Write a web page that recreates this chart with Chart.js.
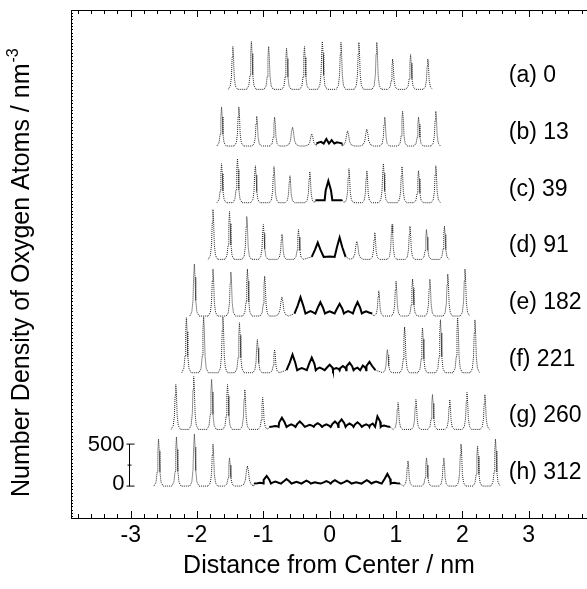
<!DOCTYPE html>
<html>
<head>
<meta charset="utf-8">
<script src="https://cdn.jsdelivr.net/npm/chart.js@4.4.1/dist/chart.umd.min.js"></script>
<style>
  html, body { margin: 0; padding: 0; background: #fff; }
  canvas { display: block; }
</style>
</head>
<body>
<canvas id="densityChart" width="587" height="589"></canvas>
<script>
// run labels, top to bottom
const runLabels = ['(a) 0', '(b) 13', '(c) 39', '(d) 91', '(e) 182', '(f) 221', '(g) 260', '(h) 312'];
const xTickValues = [-3, -2, -1, 0, 1, 2, 3];

// layered (ice-like) peaks: position / nm and height / nm^-3
const icePosA = [-1.46, -1.18, -0.92, -0.65, -0.38, -0.11, 0.17, 0.44, 0.71, 0.95, 1.22, 1.48];
const iceHA   = [510, 570, 510, 490, 510, 570, 560, 560, 560, 360, 415, 360];
const icePosB = [-1.63, -1.37, -1.10, -0.83, -0.56, -0.27, 0.27, 0.56, 0.83, 1.10, 1.34, 1.60];
const iceHB   = [465, 465, 355, 345, 225, 145, 180, 200, 345, 415, 345, 415];
const icePosC = [-1.63, -1.39, -1.12, -0.84, -0.60, -0.30, 0.29, 0.56, 0.81, 1.09, 1.34, 1.60];
const iceHC   = [465, 525, 440, 430, 320, 370, 405, 380, 465, 430, 380, 440];
const icePosD = [-1.76, -1.51, -1.25, -1.00, -0.72, -0.47, 0.41, 0.68, 0.94, 1.21, 1.46, 1.73];
const iceHD   = [595, 570, 510, 415, 300, 355, 215, 320, 415, 395, 355, 395];
const icePosE = [-2.04, -1.76, -1.49, -1.24, -0.98, -0.72, 0.74, 1.00, 1.25, 1.51, 1.78, 2.04];
const iceHE   = [620, 560, 525, 560, 475, 225, 300, 415, 440, 440, 500, 560];
const icePosF = [-2.16, -1.90, -1.61, -1.36, -1.09, -0.83, 0.87, 1.13, 1.40, 1.67, 1.93, 2.19];
const iceHF   = [655, 665, 665, 595, 395, 275, 275, 545, 535, 630, 655, 630];
const icePosG = [-2.32, -2.05, -1.78, -1.54, -1.28, -1.01, 1.03, 1.30, 1.55, 1.81, 2.07, 2.34];
const iceHG   = [535, 630, 595, 535, 475, 380, 320, 355, 415, 355, 440, 415];
const icePosH = [-2.58, -2.31, -2.04, -1.76, -1.51, -1.24, 1.18, 1.46, 1.72, 1.98, 2.23, 2.50];
const iceHH   = [560, 585, 620, 500, 335, 240, 300, 335, 335, 500, 475, 560];

// liquid-like region: bump position / nm and height / nm^-3
const liqPosA = [];
const liqHA   = [];
const liqPosB = [-0.13, -0.05, 0.03, 0.11];
const liqHB   = [50, 85, 70, 45];
const liqPosC = [-0.13, -0.02, 0.10];
const liqHC   = [30, 260, 30];
const liqPosD = [-0.18, 0.00, 0.15];
const liqHD   = [200, 35, 260];
const liqPosE = [-0.44, -0.29, -0.14, 0.00, 0.15, 0.28, 0.42, 0.55];
const liqHE   = [225, 60, 165, 55, 145, 60, 165, 55];
const liqPosF = [-0.56, -0.42, -0.27, -0.15, 0.00, 0.10, 0.20, 0.30, 0.42, 0.50, 0.60];
const liqHF   = [215, 55, 180, 60, 95, 55, 80, 120, 60, 85, 130];
const liqPosG = [-0.82, -0.72, -0.58, -0.45, -0.30, -0.18, -0.05, 0.08, 0.18, 0.30, 0.42, 0.55, 0.65, 0.72, 0.82];
const liqHG   = [40, 140, 60, 95, 55, 75, 60, 95, 120, 70, 85, 60, 70, 155, 45];
const liqPosH = [-1.05, -0.95, -0.82, -0.65, -0.50, -0.35, -0.22, -0.05, 0.08, 0.26, 0.40, 0.56, 0.70, 0.87, 0.97];
const liqHH   = [40, 120, 55, 85, 50, 65, 45, 60, 70, 65, 45, 70, 55, 145, 40];

const scaleBarValues = [0, 250, 500];

const icePos = [icePosA, icePosB, icePosC, icePosD, icePosE, icePosF, icePosG, icePosH];
const iceH = [iceHA, iceHB, iceHC, iceHD, iceHE, iceHF, iceHG, iceHH];
const liqPos = [liqPosA, liqPosB, liqPosC, liqPosD, liqPosE, liqPosF, liqPosG, liqPosH];
const liqH = [liqHA, liqHB, liqHC, liqHD, liqHE, liqHF, liqHG, liqHH];

const FONT = "'Liberation Sans', Arial, Helvetica, sans-serif";
const OFFSET = 675;       // vertical shift between runs
const LIQ_FLOOR = 30;     // level the liquid trace sits on
const ICE_W = 0.07, ICE_W_LOW = 0.1, LIQ_W = 0.09;
const ICE_SHAPE = [[-1, 0], [-0.55, 0.08], [-0.3, 0.3], [-0.15, 0.75], [0, 1], [0.15, 0.75], [0.3, 0.3], [0.55, 0.08], [1, 0]];
const LIQ_SHAPE = [[-1, 0], [-0.45, 0.5], [0, 1], [0.45, 0.5], [1, 0]];

// turn peak lists into a trace for one run
function buildTrace(k) {
  const base = (runLabels.length - 1 - k) * OFFSET;
  const peaks = [];
  icePos[k].forEach((p, i) => peaks.push({ p: p, h: iceH[k][i], liq: false }));
  liqPos[k].forEach((p, i) => peaks.push({ p: p, h: liqH[k][i], liq: true }));
  peaks.sort((a, b) => a.p - b.p);
  const pts = [];
  peaks.forEach((pk, i) => {
    const w = pk.liq ? LIQ_W : (pk.h < 260 ? ICE_W_LOW : ICE_W);
    const shape = pk.liq ? LIQ_SHAPE : ICE_SHAPE;
    const floor = pk.liq ? LIQ_FLOOR : 0;
    const prev = peaks[i - 1], next = peaks[i + 1];
    const lo = prev ? Math.max(pk.p - w, (prev.p + pk.p) / 2) : pk.p - w;
    const hi = next ? Math.min(pk.p + w, (pk.p + next.p) / 2) : pk.p + w;
    pts.push({ x: lo, y: base + floor, liq: pk.liq });
    shape.forEach(([dx, fy]) => {
      const x = pk.p + dx * w;
      if (x <= lo || x >= hi) return;
      pts.push({ x: x, y: base + floor + fy * (pk.h - floor), liq: pk.liq });
    });
    pts.push({ x: hi, y: base + floor, liq: pk.liq });
  });
  return pts;
}

const datasets = runLabels.map((name, k) => {
  const pts = buildTrace(k);
  const isLiq = ctx => pts[ctx.p0DataIndex].liq && pts[ctx.p1DataIndex].liq;
  return {
    label: name,
    data: pts,
    borderColor: '#000',
    borderWidth: 2,
    borderDash: [],
    pointRadius: 0,
    tension: 0,
    fill: false,
    segment: {
      borderDash: ctx => isLiq(ctx) ? undefined : [1, 1],
      borderWidth: ctx => isLiq(ctx) ? undefined : 1,
      borderColor: ctx => isLiq(ctx) ? undefined : '#222'
    }
  };
});

// extra drawing: inward ticks, run labels, scale bar, y title
const decor = {
  id: 'decor',
  afterDraw(chart) {
    const ctx = chart.ctx;
    const x = chart.scales.x, y = chart.scales.y;
    const area = chart.chartArea;
    ctx.save();
    ctx.strokeStyle = '#000';
    ctx.fillStyle = '#000';
    ctx.lineWidth = 1;

    // inward tick marks on bottom and top
    ctx.beginPath();
    for (let v = -38; v <= 38; v += 2) {
      const px = Math.round(x.getPixelForValue(v / 10)) + 0.5;
      const len = v % 10 === 0 ? 7 : 4;
      ctx.moveTo(px, area.bottom);
      ctx.lineTo(px, area.bottom - len);
      ctx.moveTo(px, area.top);
      ctx.lineTo(px, area.top + len);
    }
    // small ticks on the left axis
    for (let v = -360; v <= 5650; v += 40) {
      const py = Math.round(y.getPixelForValue(v)) + 0.5;
      ctx.moveTo(area.left, py);
      ctx.lineTo(area.left + 2, py);
    }
    ctx.stroke();

    // run labels
    ctx.font = '23px ' + FONT;
    ctx.textAlign = 'left';
    ctx.textBaseline = 'middle';
    runLabels.forEach((name, k) => {
      const base = (runLabels.length - 1 - k) * OFFSET;
      ctx.fillText(name, x.getPixelForValue(2.7), y.getPixelForValue(base + 160));
    });

    // scale bar (drawn against the lowest run)
    const bx = Math.round(x.getPixelForValue(-3.03)) + 0.5;
    const b0 = y.getPixelForValue(scaleBarValues[0]);
    const b1 = y.getPixelForValue(scaleBarValues[2]);
    const bm = y.getPixelForValue(scaleBarValues[1]);
    ctx.beginPath();
    ctx.moveTo(bx, b0); ctx.lineTo(bx, b1);
    ctx.moveTo(bx - 3, b0); ctx.lineTo(bx + 5, b0);
    ctx.moveTo(bx - 3, b1); ctx.lineTo(bx + 5, b1);
    ctx.moveTo(bx - 2, bm); ctx.lineTo(bx + 2, bm);
    ctx.stroke();
    ctx.font = '22px ' + FONT;
    ctx.textAlign = 'right';
    ctx.fillText(String(scaleBarValues[2]), bx - 5, b1 + 1);
    ctx.fillText(String(scaleBarValues[0]), bx - 5, b0 - 2);

    // y axis title with superscript
    ctx.translate(29, 497);
    ctx.rotate(-Math.PI / 2);
    ctx.textAlign = 'left';
    ctx.textBaseline = 'alphabetic';
    ctx.font = '25px ' + FONT;
    const main = 'Number Density of Oxygen Atoms / nm';
    ctx.fillText(main, 0, 0);
    const w = ctx.measureText(main).width;
    ctx.font = '16px ' + FONT;
    ctx.fillText('-3', w + 1, -11);
    ctx.restore();
  }
};

new Chart(document.getElementById('densityChart'), {
  type: 'line',
  data: { datasets: datasets },
  options: {
    responsive: false,
    animation: false,
    layout: { padding: 0 },
    plugins: { legend: { display: false }, tooltip: { enabled: false } },
    scales: {
      x: {
        type: 'linear',
        position: 'bottom',
        min: -3.9,
        max: 3.88,
        afterFit: s => { s.height = 71; },
        afterBuildTicks: s => { s.ticks = xTickValues.map(v => ({ value: v })); },
        grid: { display: false, drawTicks: false },
        border: { display: true, color: '#000', width: 1 },
        ticks: {
          autoSkip: false,
          maxRotation: 0,
          padding: 4,
          color: '#000',
          font: { family: FONT, size: 23 },
          callback: v => String(Math.round(v))
        },
        title: {
          display: true,
          text: 'Distance from Center / nm',
          color: '#000',
          font: { family: FONT, size: 25 },
          padding: { top: 8, bottom: 8 }
        }
      },
      xTop: {
        type: 'linear',
        position: 'top',
        min: -3.9,
        max: 3.88,
        afterFit: s => { s.height = 10; },
        grid: { display: false, drawTicks: false },
        border: { display: true, color: '#000', width: 1 },
        ticks: { display: false }
      },
      y: {
        type: 'linear',
        min: -380,
        max: 5670,
        afterFit: s => { s.width = 71; },
        grid: { display: false, drawTicks: false },
        border: { display: true, color: '#000', width: 1 },
        ticks: { display: false }
      }
    }
  },
  plugins: [decor]
});
</script>
</body>
</html>
